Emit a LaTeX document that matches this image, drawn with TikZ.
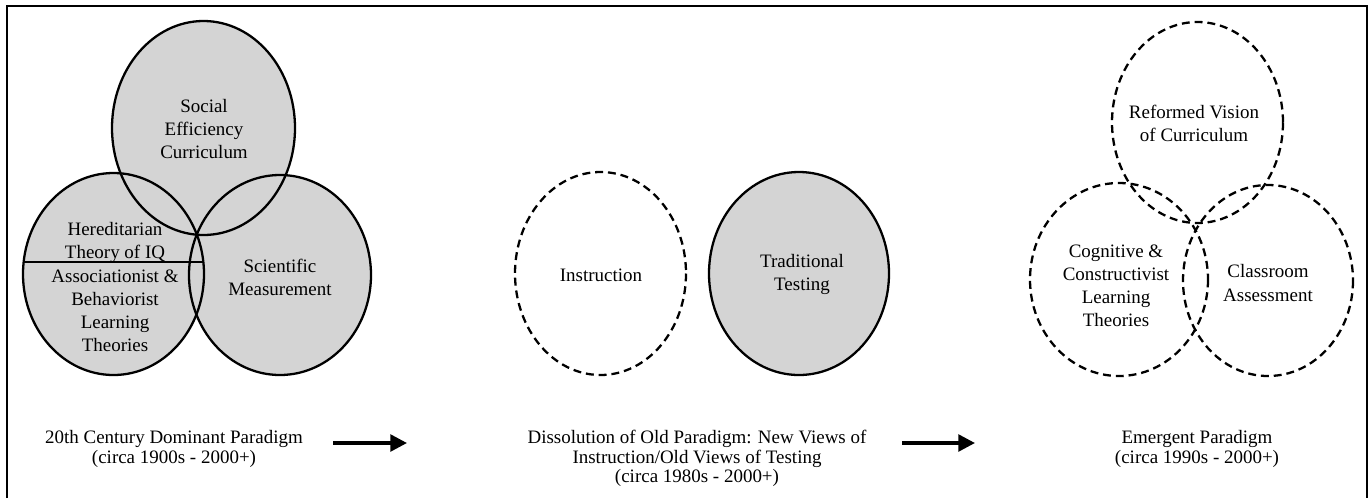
\documentclass[tikz,border=0pt]{standalone}
\usepackage{fontspec}
\setmainfont{Liberation Serif}
\usetikzlibrary{arrows.meta}

\begin{document}
\begin{tikzpicture}[x=0.02cm, y=-0.02cm,
        txt/.style={align=center, inner sep=0pt, font=\fontsize{10.8}{13.1}\selectfont},
        paracap/.style={align=center, inner sep=0pt, font=\fontsize{10.8}{11.1}\selectfont},
        ring/.style={line width=1.3pt},
        dashring/.style={line width=1.3pt, dash pattern=on 4.5pt off 2.8pt},
        shade/.style={fill=black!17},
        flow/.style={-{Triangle[length=9.5pt, width=9.5pt]}, line width=2pt}]

    \useasboundingbox (0,0) rectangle (1369,498);
    \draw [line width=1.5pt] (7,498) -- (7,6) -- (1367,6) -- (1367,498);

    % old paradigm: fill first, outlines after
    \foreach \cx/\cy/\rx/\ry in {203.5/128/91.5/107, 113.5/274/90.5/101, 280/275/91/100}
        \fill [shade] (\cx,\cy) ellipse [x radius=\rx, y radius=\ry];
    \foreach \cx/\cy/\rx/\ry in {203.5/128/91.5/107, 113.5/274/90.5/101, 280/275/91/100}
        \draw [ring] (\cx,\cy) ellipse [x radius=\rx, y radius=\ry];
    \begin{scope}
        \clip (113.5,274) ellipse [x radius=90.5, y radius=101];
        \draw [ring] (0,262) -- (220,262);
    \end{scope}

    \node (sec) [txt] at (204,129) {Social\\Efficiency\\Curriculum};
    \node (hered) [txt] at (115,242.5) {Hereditarian\\Theory of IQ};
    \node (assoc) [txt] at (115,311) {Associationist \&\\Behaviorist\\Learning\\Theories};
    \node (sci) [txt] at (280,277) {Scientific\\Measurement};

    % dissolution
    \draw [dashring] (600.5,273.5) ellipse [x radius=85.5, y radius=101.5];
    \draw [ring, shade] (799,273.5) ellipse [x radius=90, y radius=101.5];

    \node (instr) [txt] at (601,275) {Instruction};
    \node (trad) [txt] at (802,274.5) {Traditional\\Testing};

    % emergent paradigm
    \foreach \cx/\cy/\rx/\ry in {1197.5/122.5/85.5/100.5, 1119/279.5/89/96.5, 1268/280.5/85/95.5}
        \draw [dashring] (\cx,\cy) ellipse [x radius=\rx, y radius=\ry];

    \node (refv) [txt] at (1194,123.5) {Reformed Vision\\of Curriculum};
    \node (cogn) [txt] at (1116,286) {Cognitive \&\\Constructivist\\Learning\\Theories};
    \node (clas) [txt] at (1268,283) {Classroom\\Assessment};

    % captions and arrows
    \node (old) [paracap] at (174,449) {20th Century Dominant Paradigm\\(circa 1900s - 2000+)};
    \node (mid) [paracap] at (697,458.5) {Dissolution of Old Paradigm: New Views of\\Instruction/Old Views of Testing\\(circa 1980s - 2000+)};
    \node (new) [paracap] at (1197,449) {Emergent Paradigm\\(circa 1990s - 2000+)};

    \coordinate (a1s) at (333,443);
    \coordinate (a1e) at (407,443);
    \coordinate (a2s) at (902,443);
    \coordinate (a2e) at (975,443);
    \draw [flow] (a1s) -- (a1e);
    \draw [flow] (a2s) -- (a2e);
\end{tikzpicture}
\end{document}
